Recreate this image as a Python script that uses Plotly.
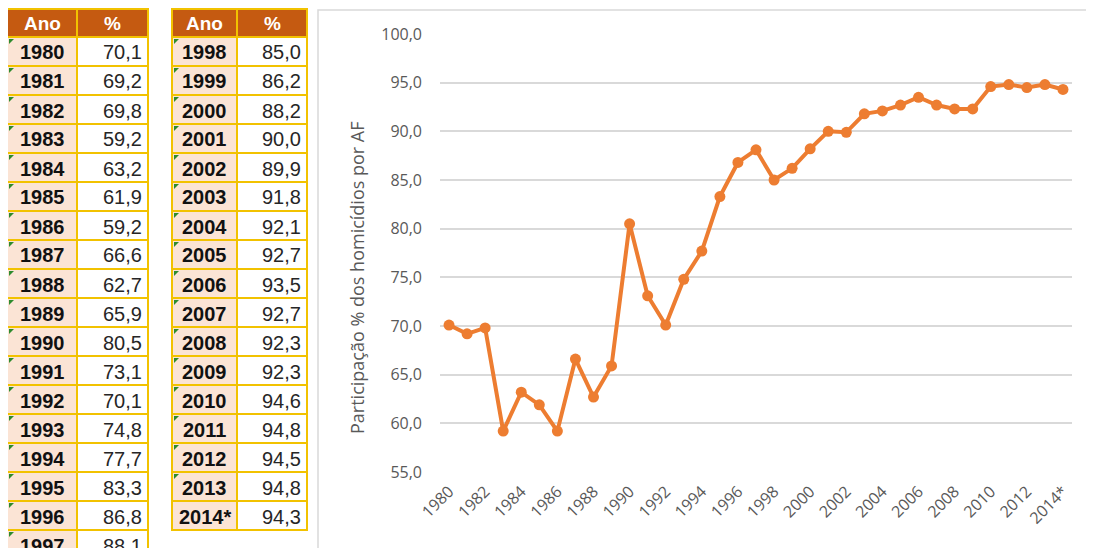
import plotly.graph_objects as go

years = [str(y) for y in range(1980, 2014)] + ["2014*"]
values = [70.1, 69.2, 69.8, 59.2, 63.2, 61.9, 59.2, 66.6, 62.7, 65.9,
          80.5, 73.1, 70.1, 74.8, 77.7, 83.3, 86.8, 88.1, 85.0, 86.2,
          88.2, 90.0, 89.9, 91.8, 92.1, 92.7, 93.5, 92.7, 92.3, 92.3,
          94.6, 94.8, 94.5, 94.8, 94.3]
header = ["Ano", "%"]
tick_labels = years[::2]
y_title = "Participação % dos homicídios por AF"

# page body has an 8px margin; figure fills the rest of the 1094x548 window
OFF = 8
W, H = 1094 - OFF, 548 - OFF
ORANGE = "#ED7D31"
HEAD = "#C55A11"
PEACH = "#FBE4D5"
GOLD = "#F2C200"
GREEN = "#2E8B2E"

# table geometry (window pixels): (left, split, right)
tables = [((7, 77, 148), 0, 18), ((172, 237, 307), 18, 35)]
TOP, HEAD_H, ROW_H = 9, 28, 29

def px(x):
    return (x - OFF) / W

def py(y):
    return 1 - (y - OFF) / H

def fmt(v):
    return f"{v:.1f}".replace(".", ",")

shapes, annotations = [], []
for (x0, xm, x1), i0, i1 in tables:
    for (a, b), h in zip(((x0, xm), (xm, x1)), header):
        shapes.append(dict(type="rect", xref="paper", yref="paper",
                           x0=px(a), x1=px(b), y0=py(TOP + HEAD_H), y1=py(TOP),
                           fillcolor=HEAD, line=dict(color=GOLD, width=2)))
        annotations.append(dict(xref="paper", yref="paper", x=px((a + b) / 2),
                                y=py(TOP + HEAD_H / 2), text=f"<b>{h}</b>",
                                showarrow=False, xanchor="center", yanchor="middle",
                                font=dict(family="Liberation Sans", size=19, color="white")))
    for r, idx in enumerate(range(i0, i1)):
        ya = TOP + HEAD_H + r * ROW_H
        yb = ya + ROW_H
        shapes.append(dict(type="rect", xref="paper", yref="paper",
                           x0=px(x0), x1=px(xm), y0=py(yb), y1=py(ya),
                           fillcolor=PEACH, line=dict(color=GOLD, width=2)))
        shapes.append(dict(type="rect", xref="paper", yref="paper",
                           x0=px(xm), x1=px(x1), y0=py(yb), y1=py(ya),
                           fillcolor="white", line=dict(color=GOLD, width=2)))
        if not years[idx].endswith("*"):
            shapes.append(dict(type="path", xref="paper", yref="paper",
                               path=f"M {px(x0+2)},{py(ya+2)} L {px(x0+7)},{py(ya+2)} L {px(x0+2)},{py(ya+7)} Z",
                               fillcolor=GREEN, line=dict(width=0)))
        annotations.append(dict(xref="paper", yref="paper", x=px((x0 + xm) / 2),
                                y=py((ya + yb) / 2 + 1), text=f"<b>{years[idx]}</b>",
                                showarrow=False, xanchor="center", yanchor="middle",
                                font=dict(family="Liberation Sans", size=20, color="#111111")))
        annotations.append(dict(xref="paper", yref="paper", x=px(x1 - 4),
                                y=py((ya + yb) / 2 + 1), text=fmt(values[idx]),
                                showarrow=False, xanchor="right", yanchor="middle",
                                font=dict(family="Liberation Sans", size=20, color="#262626")))

# y-axis title (placed as in the reference, slightly below the plot centre)
annotations.append(dict(xref="paper", yref="paper", x=px(357), y=py(278),
                        text=y_title, textangle=-90, showarrow=False,
                        xanchor="center", yanchor="middle",
                        font=dict(family="Open Sans", size=18, color="#595959")))

shapes.append(dict(type="rect", xref="paper", yref="paper",
                   x0=px(318), x1=1.01, y0=-0.01, y1=py(10),
                   line=dict(color="#D9D9D9", width=1.5), fillcolor="rgba(0,0,0,0)",
                   layer="below"))

fig = go.Figure()
fig.add_trace(go.Scatter(
    x=years, y=values, mode="lines+markers",
    line=dict(color=ORANGE, width=4),
    marker=dict(color=ORANGE, size=11),
    showlegend=False, hoverinfo="skip",
))

fig.update_layout(
    width=W, height=H,
    margin=dict(l=0, r=0, t=0, b=0),
    paper_bgcolor="white", plot_bgcolor="white",
    separators=",.",
    showlegend=False,
    xaxis=dict(domain=[px(440), px(1072)], type="category", automargin=False,
               range=[-0.5, len(years) - 0.5],
               tickmode="array", tickvals=tick_labels, ticktext=tick_labels,
               tickangle=-45, showgrid=False, zeroline=False, showline=False,
               ticks="", ticklabelstandoff=6,
               tickfont=dict(family="Open Sans", size=16, color="#595959")),
    yaxis=dict(domain=[py(472), py(34)], range=[55, 100], automargin=False,
               dtick=5, tickformat=".1f", showgrid=True, gridcolor="#D9D9D9",
               gridwidth=1.5, zeroline=False, showline=False, ticks="",
               ticklabelstandoff=17,
               tickfont=dict(family="Open Sans", size=16, color="#595959")),
    shapes=shapes,
    annotations=annotations,
)

fig.write_html("out.html")
